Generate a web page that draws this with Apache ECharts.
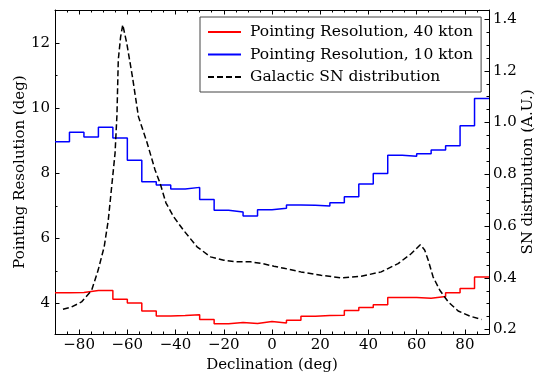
<!DOCTYPE html>
<html>
<head>
<meta charset="utf-8">
<script src="https://cdn.jsdelivr.net/npm/echarts@6/dist/echarts.min.js"></script>
<style>
  html, body { margin: 0; padding: 0; background: #fff; }
  #chart { width: 535px; height: 372px; }
</style>
</head>
<body>
<div id="chart"></div>
<script>
// Declination bin edges (deg) for the step histograms
const binEdges = [-90, -84, -78, -72, -66, -60, -54, -48, -42, -36, -30, -24, -18, -12, -6,
                  0, 6, 12, 18, 24, 30, 36, 42, 48, 54, 60, 66, 72, 78, 84, 90];

// Pointing resolution per bin (deg)
const res40kton = [4.33, 4.34, 4.40, 4.40, 4.13, 4.02, 3.77, 3.62, 3.63, 3.66, 3.51, 3.38, 3.42, 3.39, 3.45,
                   3.40, 3.49, 3.61, 3.63, 3.64, 3.79, 3.88, 3.96, 4.19, 4.19, 4.16, 4.22, 4.33, 4.46, 4.82];
const res10kton = [8.97, 9.26, 9.12, 9.42, 9.09, 8.40, 7.74, 7.64, 7.52, 7.57, 7.20, 6.87, 6.81, 6.69, 6.88,
                   6.93, 7.03, 7.02, 7.00, 7.10, 7.28, 7.67, 8.00, 8.56, 8.53, 8.60, 8.72, 8.85, 9.46, 10.30];

// Galactic supernova distribution vs declination (arbitrary units)
const snDec = [-86.7, -83.2, -79.0, -74.8, -72.1, -69.6, -67.9, -66.5, -65.1, -64.3, -63.75, -62.8, -61.9,
               -60.25, -57.9, -55.4, -51.9, -48.5, -46.4, -44.0, -40.8, -36.7, -31.1, -25.5, -20.0, -15.0,
               -8.9, -4.0, 0.8, 5.0, 12.0, 20.3, 28.6, 37.0, 45.3, 52.3, 57.8, 61.5, 63.3, 64.8, 66.8,
               69.6, 73.1, 77.2, 82.1, 86.9];
const snDist = [0.279, 0.287, 0.307, 0.352, 0.430, 0.520, 0.623, 0.752, 0.881, 1.030, 1.243, 1.330, 1.378,
                1.307, 1.178, 1.023, 0.925, 0.817, 0.765, 0.690, 0.636, 0.584, 0.520, 0.481, 0.468, 0.462,
                0.462, 0.455, 0.445, 0.437, 0.423, 0.410, 0.400, 0.406, 0.423, 0.455, 0.494, 0.528, 0.508,
                0.468, 0.404, 0.352, 0.307, 0.272, 0.252, 0.239];

// Tick positions
const xMajorTicks = [-80, -60, -40, -20, 0, 20, 40, 60, 80];
const yLeftMajorTicks = [4, 6, 8, 10, 12];
const yLeftMinorTicks = [4, 5, 6, 7, 8, 9, 10, 11, 12, 13];
const yRightMajorTicks = [0.2, 0.4, 0.6, 0.8, 1.0, 1.2, 1.4];
const yRightMinorTicks = [0.2, 0.25, 0.3, 0.35, 0.4, 0.45, 0.5, 0.55, 0.6, 0.65, 0.7, 0.75, 0.8, 0.85,
                          0.9, 0.95, 1.0, 1.05, 1.1, 1.15, 1.2, 1.25, 1.3, 1.35, 1.4];

const FONT = 'DejaVu Serif';
const FS = 15;

// Step outline: each bin starts at its left edge, last point closes at the right edge
function stepData(values) {
  const pts = values.map((v, i) => [binEdges[i], v]);
  pts.push([binEdges[binEdges.length - 1], values[values.length - 1]]);
  return pts;
}

const minus = v => String(v).replace('-', '\u2212');

const X_MIN = -90, X_MAX = 90;
const YL_MIN = 3.065, YL_MAX = 13.02;
const YR_MIN = 0.183, YR_MAX = 1.435;

const tick = len => ({ show: true, inside: true, length: len, lineStyle: { color: '#000', width: 1 } });
const spine = { show: true, onZero: false, lineStyle: { color: '#000', width: 1 } };
const noSpine = { show: false, onZero: false };

const chart = echarts.init(document.getElementById('chart'), null, { renderer: 'canvas' });
chart.setOption({
  animation: false,
  backgroundColor: '#fff',
  grid: { left: 55, right: 46, top: 10, bottom: 38, containLabel: false, outerBoundsMode: 'none' },
  legend: {
    left: 200, top: 17,
    orient: 'vertical',
    itemWidth: 33, itemHeight: 14, itemGap: 6.5,
    padding: [7, 8, 7, 7],
    backgroundColor: '#fff',
    borderColor: '#444', borderWidth: 1, borderRadius: 0,
    itemStyle: { opacity: 0 },
    textStyle: { fontFamily: FONT, fontSize: 15.5, color: '#000', padding: [0, 0, 0, 4] },
    data: ['Pointing Resolution, 40 kton', 'Pointing Resolution, 10 kton', 'Galactic SN distribution']
  },
  xAxis: [
    { // bottom: major ticks, labels, name
      type: 'value', position: 'bottom', min: X_MIN, max: X_MAX,
      axisLine: spine,
      axisTick: Object.assign(tick(4.5), { customValues: xMajorTicks }),
      axisLabel: { customValues: xMajorTicks, formatter: minus, fontFamily: FONT, fontSize: FS, color: '#000', margin: 4 },
      splitLine: { show: false },
      name: 'Declination (deg)', nameLocation: 'middle', nameGap: 21,
      nameTextStyle: { fontFamily: FONT, fontSize: FS, color: '#000' }
    },
    { // bottom minor ticks
      type: 'value', position: 'bottom', min: X_MIN, max: X_MAX, interval: 5,
      axisLine: noSpine, axisTick: tick(2.5), axisLabel: { show: false }, splitLine: { show: false }
    },
    { // top major ticks
      type: 'value', position: 'top', min: X_MIN, max: X_MAX,
      axisLine: spine,
      axisTick: Object.assign(tick(4.5), { customValues: xMajorTicks }),
      axisLabel: { show: false }, splitLine: { show: false }
    },
    { // top minor ticks
      type: 'value', position: 'top', min: X_MIN, max: X_MAX, interval: 5,
      axisLine: noSpine, axisTick: tick(2.5), axisLabel: { show: false }, splitLine: { show: false }
    }
  ],
  yAxis: [
    { // left: resolution
      type: 'value', position: 'left', min: YL_MIN, max: YL_MAX,
      axisLine: spine,
      axisTick: Object.assign(tick(4.5), { customValues: yLeftMajorTicks }),
      axisLabel: { customValues: yLeftMajorTicks, fontFamily: FONT, fontSize: FS, color: '#000', margin: 5 },
      splitLine: { show: false },
      name: 'Pointing Resolution (deg)', nameLocation: 'middle', nameGap: 27, nameMoveOverlap: false,
      nameTextStyle: { fontFamily: FONT, fontSize: FS, color: '#000' }
    },
    { // left minor ticks
      type: 'value', position: 'left', min: YL_MIN, max: YL_MAX,
      axisLine: noSpine,
      axisTick: Object.assign(tick(2.5), { customValues: yLeftMinorTicks }),
      axisLabel: { show: false }, splitLine: { show: false }
    },
    { // right: SN distribution
      type: 'value', position: 'right', min: YR_MIN, max: YR_MAX,
      axisLine: spine,
      axisTick: Object.assign(tick(4.5), { customValues: yRightMajorTicks }),
      axisLabel: { customValues: yRightMajorTicks, formatter: v => v.toFixed(1), fontFamily: FONT, fontSize: FS, color: '#000', margin: 4 },
      splitLine: { show: false },
      name: 'SN distribution (A.U.)', nameLocation: 'middle', nameGap: 31.5, nameMoveOverlap: false,
      nameTextStyle: { fontFamily: FONT, fontSize: FS, color: '#000' }
    },
    { // right minor ticks
      type: 'value', position: 'right', min: YR_MIN, max: YR_MAX,
      axisLine: noSpine,
      axisTick: Object.assign(tick(2.5), { customValues: yRightMinorTicks }),
      axisLabel: { show: false }, splitLine: { show: false }
    }
  ],
  series: [
    {
      name: 'Pointing Resolution, 40 kton', type: 'line', step: 'end',
      xAxisIndex: 0, yAxisIndex: 0, symbol: 'none',
      lineStyle: { color: '#ff0000', width: 1.5 }, itemStyle: { color: '#ff0000' },
      data: stepData(res40kton), z: 3
    },
    {
      name: 'Pointing Resolution, 10 kton', type: 'line', step: 'end',
      xAxisIndex: 0, yAxisIndex: 0, symbol: 'none',
      lineStyle: { color: '#0000ff', width: 1.5 }, itemStyle: { color: '#0000ff' },
      data: stepData(res10kton), z: 3
    },
    {
      name: 'Galactic SN distribution', type: 'line',
      xAxisIndex: 0, yAxisIndex: 2, symbol: 'none',
      lineStyle: { color: '#000', width: 1.5, type: [6, 3] }, itemStyle: { color: '#000' },
      data: snDec.map((d, i) => [d, snDist[i]]), z: 4
    }
  ]
});
</script>
</body>
</html>
